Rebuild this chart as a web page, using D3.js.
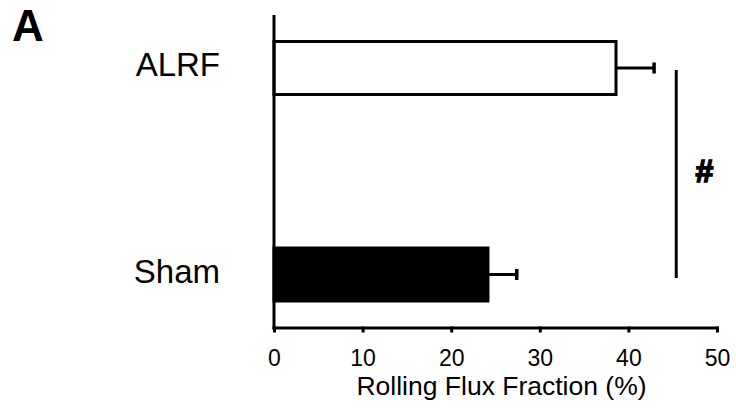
<!DOCTYPE html>
<html>
<head>
<meta charset="utf-8">
<script src="https://cdn.jsdelivr.net/npm/d3@7"></script>
<style>
  body { margin: 0; background: #fff; }
  svg { display: block; font-family: "Liberation Sans", Arial, sans-serif; }
</style>
</head>
<body>
<div class="vis-barchart"></div>
<script>
// data
const categories = ["ALRF", "Sham"];
const means = [38.6, 24.15];
const errors = [4.3, 3.25];
const fills = ["#fff", "#000"];
const xTicks = [0, 10, 20, 30, 40, 50];
const sigPair = ["ALRF", "Sham"];
const sigX = 45.4;
const sigLabel = "#";

const W = 736, H = 408;
const svg = d3.select(".vis-barchart")
    .append("svg")
    .attr("width", W)
    .attr("height", H);

// scales
const xScale = d3.scaleLinear()
    .domain([0, 50])
    .range([274, 717]);
const yScale = d3.scalePoint()
    .domain(categories)
    .range([68, 274.5]);
const barH = 53;
const axisY = 328, axisTop = 15;

// bars
const bars = svg.append("g").attr("class", "bars");
bars.selectAll("rect")
    .data(categories)
    .enter()
    .append("rect")
    .attr("x", xScale(0))
    .attr("y", d => yScale(d) - barH / 2)
    .attr("width", (d, i) => xScale(means[i]) - xScale(0))
    .attr("height", barH)
    .attr("fill", (d, i) => fills[i])
    .attr("stroke", "#000")
    .attr("stroke-width", 3);

// error bars (one-sided)
const err = svg.append("g").attr("class", "errors")
    .attr("stroke", "#000")
    .attr("stroke-width", 3);
categories.forEach((c, i) => {
    const y = yScale(c);
    err.append("line")
        .attr("x1", xScale(means[i])).attr("x2", xScale(means[i] + errors[i]))
        .attr("y1", y).attr("y2", y);
    err.append("line")
        .attr("x1", xScale(means[i] + errors[i])).attr("x2", xScale(means[i] + errors[i]))
        .attr("y1", y - 5.5).attr("y2", y + 5.5)
        .attr("stroke-width", 3.5);
});

// x axis
const axisX = d3.axisBottom(xScale)
    .tickValues(xTicks)
    .tickSize(4)
    .tickSizeOuter(0)
    .tickPadding(17.5);
const axis_x = svg.append("g")
    .attr("transform", `translate(0, ${axisY})`)
    .call(axisX);
axis_x.select(".domain")
    .attr("stroke-width", 3)
    .attr("d", `M${xScale(0) - 1.5},0H${xScale(50) + 1.5}`);
axis_x.selectAll(".tick line")
    .attr("stroke-width", 3)
    .attr("y1", -1.5)
    .attr("y2", 4.5);
axis_x.selectAll(".tick text")
    .style("font-size", "23px")
    .style("font-family", "Liberation Sans, Arial, sans-serif")
    .attr("fill", "#000");

// y axis line
svg.append("line")
    .attr("x1", xScale(0)).attr("x2", xScale(0))
    .attr("y1", axisTop).attr("y2", axisY + 1.5)
    .attr("stroke", "#000")
    .attr("stroke-width", 3);

// category labels
svg.append("g").selectAll("text")
    .data(categories)
    .enter()
    .append("text")
    .attr("x", 220)
    .attr("y", d => yScale(d) + 8)
    .attr("text-anchor", "end")
    .style("font-size", "33px")
    .text(d => d);

// axis title
svg.append("text")
    .attr("x", 501.5)
    .attr("y", 394.5)
    .attr("text-anchor", "middle")
    .style("font-size", "26.5px")
    .text("Rolling Flux Fraction (%)");

// significance marker
svg.append("line")
    .attr("x1", xScale(sigX)).attr("x2", xScale(sigX))
    .attr("y1", yScale(sigPair[0]) + 2)
    .attr("y2", yScale(sigPair[1]) + 3.5)
    .attr("stroke", "#000")
    .attr("stroke-width", 3);
svg.append("text")
    .attr("x", 704.5)
    .attr("y", 182)
    .attr("text-anchor", "middle")
    .style("font-size", "32px")
    .style("font-weight", "bold")
    .attr("stroke", "#000")
    .attr("stroke-width", 1.6)
    .text(sigLabel);

// panel letter
svg.append("text")
    .attr("x", 12)
    .attr("y", 41)
    .style("font-size", "44px")
    .style("font-weight", "bold")
    .text("A");
</script>
</body>
</html>
